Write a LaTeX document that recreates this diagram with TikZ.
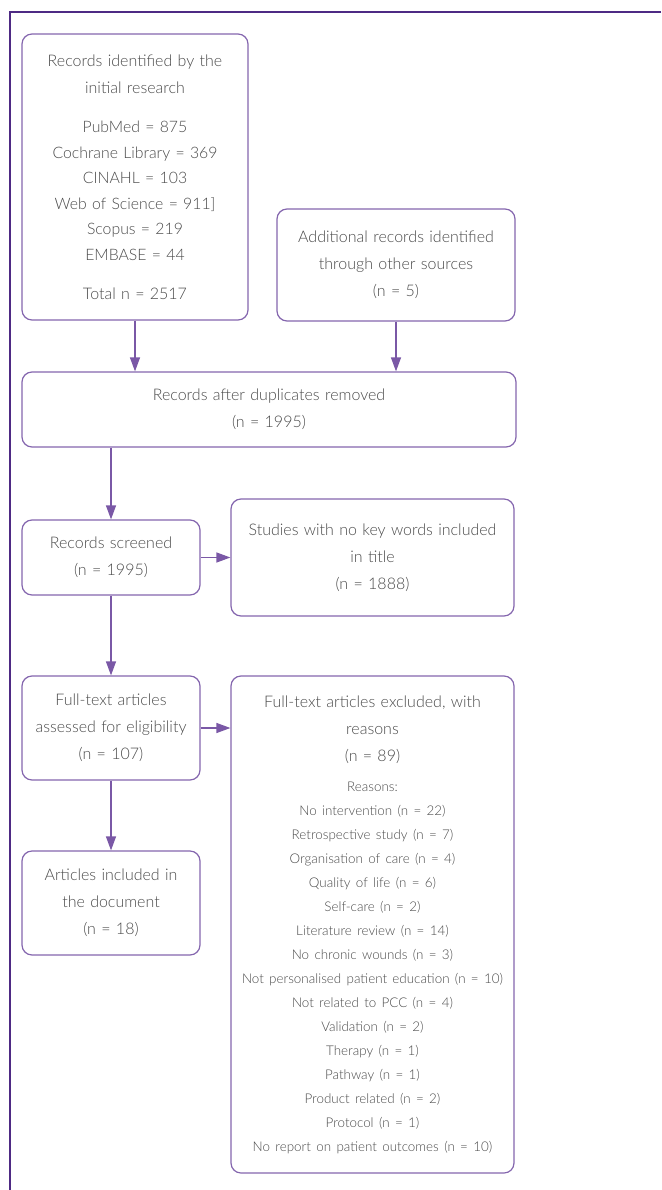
\documentclass[tikz,border=0pt]{standalone}
\usepackage{fontspec}
\setmainfont{Lato}[UprightFont=* Light]
\usetikzlibrary{arrows.meta}

\definecolor{framecol}{HTML}{4E2A84}
\definecolor{boxcol}{HTML}{8466AE}
\definecolor{arrcol}{HTML}{7A58A6}
\definecolor{txtcol}{HTML}{4A4A4A}

\tikzset{
  box/.style={draw=boxcol,line width=1.2pt,rounded corners=10pt,align=center,
    text=txtcol,inner sep=0pt,font=\fontsize{16}{27}\selectfont},
  flow/.style={draw=arrcol,line width=1.2pt,-{Triangle[length=14pt,width=10pt]}},
}
\newcommand{\lst}{\fontsize{13.4}{24}\selectfont}

\begin{document}
\begin{tikzpicture}[x=1pt,y=-1pt]
  \useasboundingbox (0,0) rectangle (661,1190);
  \draw[framecol,line width=1.8pt] (661,12) -- (10,12) -- (10,1190);

  \node[box,minimum width=226pt,minimum height=286pt,text width=220pt] (ident) at (135,177)
    {Records identified by the\\initial research\par\vskip14pt
     {\fontsize{15.8}{25.5}\selectfont PubMed = 875\\Cochrane Library = 369\\CINAHL = 103\\
     Web of Science = 911]\\Scopus = 219\\EMBASE = 44\par}\vskip12pt
     Total n = 2517};
  \node[box,minimum width=238pt,minimum height=112pt,text width=234pt] (other) at (396,265)
    {Additional records identified\\through other sources\\(n = 5)};

  \node[box,minimum width=494pt,minimum height=75pt,text width=480pt] (dedup) at (269,409.5)
    {Records after duplicates removed\\(n = 1995)};
  \foreach \from in {ident,other}
    \draw[flow] (\from.south) -- (\from.south |- dedup.north);

  \node[box,minimum width=178pt,minimum height=75pt,text width=174pt] (screen) at (111,557.5)
    {Records screened\\(n = 1995)};
  \draw[flow] (dedup.south -| screen.north) -- (screen.north);

  \node[box,minimum width=283pt,minimum height=117pt,text width=279pt] (notitle) at (372.5,557.5)
    {Studies with no key words included\\in title\\(n = 1888)};
  \draw[flow] (screen.east) -- (notitle.west);

  \node[box,minimum width=178pt,minimum height=104pt,text width=174pt] (full) at (111,728)
    {Full-text articles\\assessed for eligibility\\(n = 107)};
  \draw[flow] (screen) -- (full);

  \node[box,minimum width=283pt,minimum height=497pt,text width=279pt] (excl) at (372.5,924.5)
    {Full-text articles excluded, with\\reasons\\(n = 89)\par\vskip6pt
     {\lst Reasons:\\No intervention (n = 22)\\Retrospective study (n = 7)\\
     Organisation of care (n = 4)\\Quality of life (n = 6)\\Self-care (n = 2)\\
     Literature review (n = 14)\\No chronic wounds (n = 3)\\
     Not personalised patient education (n = 10)\\Not related to PCC (n = 4)\\
     Validation (n = 2)\\Therapy (n = 1)\\Pathway (n = 1)\\Product related (n = 2)\\
     Protocol (n = 1)\\No report on patient outcomes (n = 10)\par}};
  \draw[flow] (full.east) -- (full.east -| excl.west);

  \node[box,minimum width=178pt,minimum height=104pt,text width=174pt] (incl) at (111,903)
    {Articles included in\\the document\\(n = 18)};
  \draw[flow] (full) -- (incl);
\end{tikzpicture}
\end{document}
